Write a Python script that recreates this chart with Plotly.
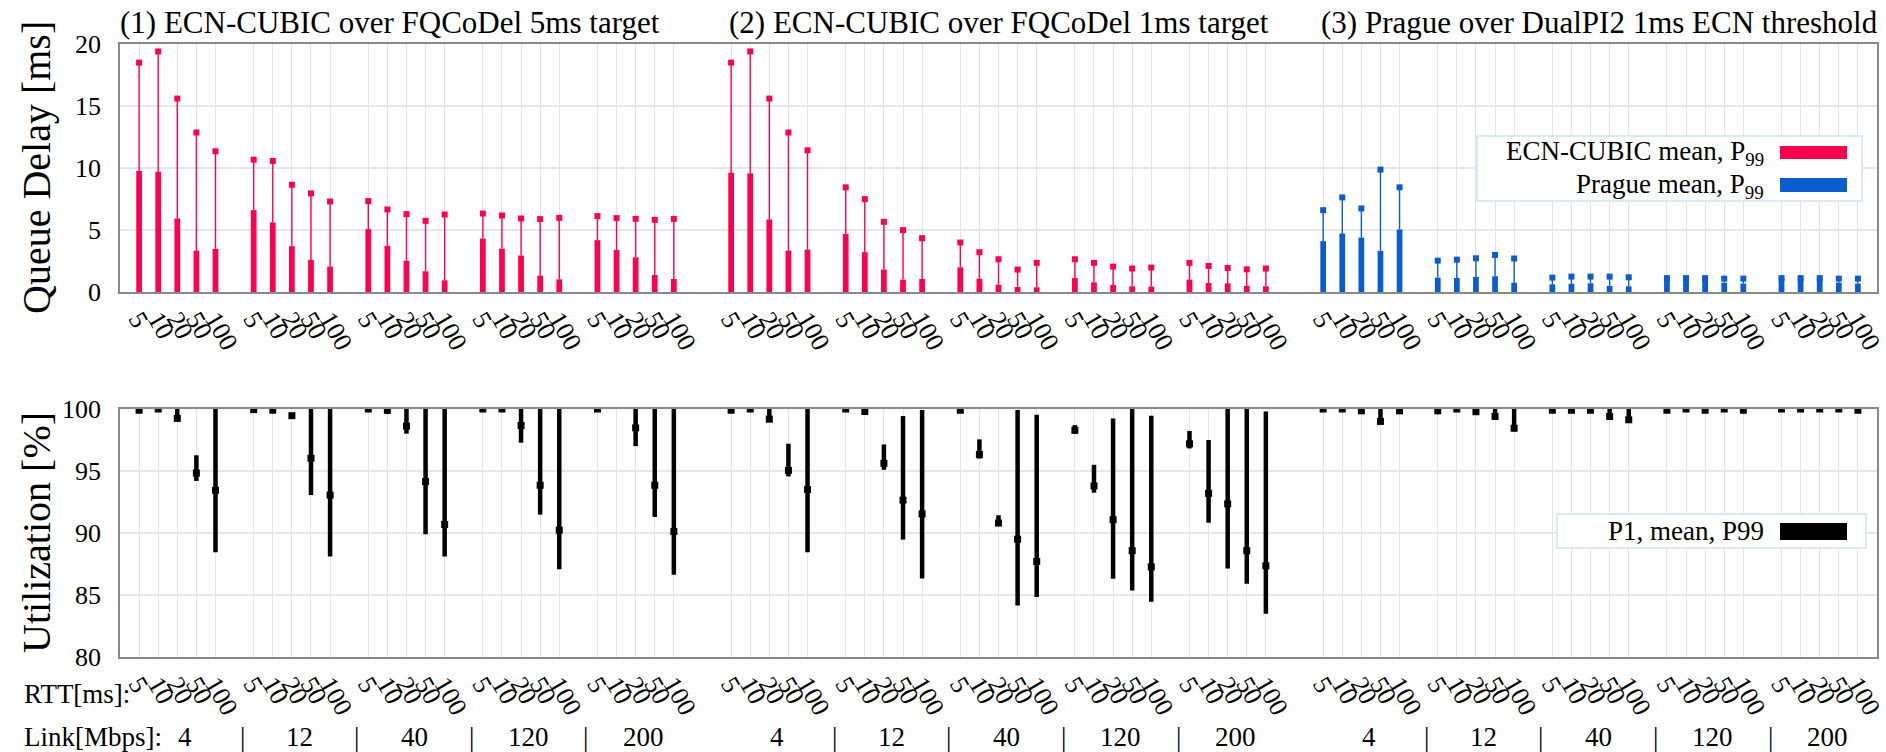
import plotly.graph_objects as go

# ---------------- data ----------------
rtts = ["5", "10", "20", "50", "100"]
links = ["4", "12", "40", "120", "200"]
panel_titles = [
    "(1) ECN-CUBIC over FQCoDel 5ms target",
    "(2) ECN-CUBIC over FQCoDel 1ms target",
    "(3) Prague over DualPI2 1ms ECN threshold",
]

# Queue delay [ms]: mean and P99 (order: link 4,12,40,120,200 ; rtt 5,10,20,50,100)
cubic5_mean = [9.76, 9.70, 5.93, 3.34, 3.48, 6.60, 5.60, 3.69, 2.59, 2.05,
               5.07, 3.72, 2.53, 1.67, 0.94, 4.31, 3.50, 2.94, 1.32, 1.02,
               4.18, 3.40, 2.80, 1.37, 1.05]
cubic5_p99 = [18.5, 19.4, 15.6, 12.86, 11.35, 10.67, 10.57, 8.65, 7.95, 7.30,
              7.33, 6.66, 6.28, 5.74, 6.25, 6.33, 6.17, 5.93, 5.88, 5.98,
              6.12, 5.96, 5.90, 5.82, 5.90]
cubic1_mean = [9.62, 9.57, 5.85, 3.34, 3.42, 4.69, 3.21, 1.81, 1.00, 1.05,
               1.99, 1.08, 0.59, 0.40, 0.38, 1.13, 0.78, 0.57, 0.46, 0.43,
               1.00, 0.73, 0.70, 0.49, 0.46]
cubic1_p99 = [18.5, 19.4, 15.6, 12.86, 11.43, 8.44, 7.49, 5.66, 4.99, 4.34,
              3.99, 3.21, 2.64, 1.81, 2.35, 2.64, 2.35, 2.05, 1.89, 1.97,
              2.35, 2.10, 1.94, 1.83, 1.89]
prague_mean = [4.10, 4.72, 4.39, 3.32, 5.04, 1.16, 1.13, 1.21, 1.27, 0.75,
               0.62, 0.67, 0.70, 0.49, 0.46, 1.10, 1.10, 1.10, 0.75, 0.68,
               1.10, 1.10, 1.10, 0.75, 0.68]
prague_p99 = [6.60, 7.63, 6.74, 9.87, 8.44, 2.53, 2.61, 2.72, 2.99, 2.70,
              1.16, 1.24, 1.24, 1.24, 1.19, 1.12, 1.12, 1.12, 1.08, 1.08,
              1.12, 1.12, 1.12, 1.08, 1.08]

# Utilization [%]: P1, mean, P99
util1_p1 = [99.7, 99.9, 99.1, 94.2, 88.44, 99.7, 99.7, 99.3, 93.06, 88.1,
            99.9, 99.6, 98.01, 89.9, 88.1, 99.9, 99.9, 97.28, 91.48, 87.07,
            99.9, None, 97.0, 91.3, 86.64]
util1_mean = [99.9, 100, 99.24, 94.83, 93.44, 99.95, 99.9, 99.46, 96.03, 93.06,
              100, 99.9, 98.61, 94.15, 90.69, 100, 100, 98.67, 93.85, 90.23,
              100, None, 98.48, 93.85, 90.12]
util1_p99 = [100, 100, 100, 96.27, 100, 100, 100, 99.65, 100, 100,
             100, 100, 100, 100, 100, 100, 100, 100, 100, 100,
             100, None, 100, 100, 100]
util2_p1 = [99.7, 99.9, 99.1, 94.56, 88.44, 99.9, 99.7, 95.1, 89.47, 86.34,
            99.8, 96.0, 90.67, 84.16, 84.84, 98.0, 93.25, 86.31, 85.36, 84.46,
            96.82, 90.83, 87.13, 85.9, 83.48]
util2_mean = [99.9, 100, 99.18, 95.05, 93.5, 100, 99.8, 95.62, 92.65, 91.54,
              99.9, 96.33, 90.8, 89.5, 87.7, 98.29, 93.8, 91.07, 88.57, 87.27,
              97.2, 93.2, 92.35, 88.57, 87.35]
util2_p99 = [100, 100, 100, 97.2, 100, 100, 100, 97.14, 99.43, 99.92,
             100, 97.55, 91.43, 99.92, 99.54, 98.7, 95.5, 99.24, 100, 99.46,
             98.23, 97.5, 100, 100, 99.8]
util3_p1 = [99.9, 99.9, 99.75, 98.8, 99.75, 99.8, 99.9, 99.7, 99.2, 98.2,
            99.8, 99.8, 99.8, 99.3, 98.9, 99.8, 99.9, 99.8, 99.9, 99.75,
            99.9, 99.9, 99.9, 99.9, 99.8]
util3_mean = [100, 100, 99.85, 99.0, 99.85, 99.85, 100, 99.78, 99.4, 98.45,
              99.9, 99.9, 99.9, 99.4, 99.13, 99.9, 100, 99.9, 100, 99.9,
              100, 100, 100, 100, 99.9]
util3_p99 = [100, 100, 100, 100, 99.95, 99.95, 100, 99.9, 100, 100,
             100, 100, 100, 100, 100, 100, 100, 100, 100, 100,
             100, 100, 100, 100, 100]

RED = "#ff0050"
BLUE = "#0a5ccf"
FONT = "Liberation Serif, Times New Roman, DejaVu Serif, serif"

# ---------------- slot positions (layout) ----------------
GROUP_STEP = 6      # 5 bars + 1 empty slot
PANEL_STEP = 31     # 5 groups + wider gap


def positions(panel):
    return [panel * PANEL_STEP + g * GROUP_STEP + r for g in range(5) for r in range(5)]


all_pos = positions(0) + positions(1) + positions(2)
all_text = rtts * 15

fig = go.Figure()

delay_sets = [(cubic5_mean, cubic5_p99, RED), (cubic1_mean, cubic1_p99, RED),
              (prague_mean, prague_p99, BLUE)]
for p, (mean, p99, col) in enumerate(delay_sets):
    xs = positions(p)
    fig.add_trace(go.Bar(x=xs, y=mean, width=0.3, marker=dict(color=col, line_width=0),
                         xaxis="x", yaxis="y", showlegend=False, hoverinfo="skip"))
    fig.add_trace(go.Scatter(
        x=xs, y=p99, mode="markers", xaxis="x", yaxis="y", showlegend=False,
        marker=dict(symbol="square", size=6, color=col),
        error_y=dict(type="data", symmetric=False, array=[0] * len(p99),
                     arrayminus=[a - b for a, b in zip(p99, mean)],
                     color=col, thickness=1.4, width=0),
        hoverinfo="skip"))

util_sets = [(util1_p1, util1_mean, util1_p99), (util2_p1, util2_mean, util2_p99),
             (util3_p1, util3_mean, util3_p99)]
for p, (lo, mid, hi) in enumerate(util_sets):
    xs = positions(p)
    fig.add_trace(go.Scatter(
        x=xs, y=mid, mode="markers", xaxis="x2", yaxis="y2", showlegend=False,
        marker=dict(symbol="square", size=7, color="black"),
        error_y=dict(type="data", symmetric=False,
                     array=[None if m is None else h - m for h, m in zip(hi, mid)],
                     arrayminus=[None if m is None else m - l for l, m in zip(lo, mid)],
                     color="black", thickness=4.5, width=0),
        hoverinfo="skip"))

W, H = 1886, 752
ML, MR, MT, MB = 120, 9, 44, 95
PW = W - ML - MR
PH = H - MT - MB


def px(xp):
    return (xp - ML) / PW


def py(yp):
    return (H - MB - yp) / PH


top_dom = [py(292), 1.0]
bot_dom = [0.0, py(409)]

xcommon = dict(range=[-1, 91], tickmode="array", tickvals=all_pos, ticktext=all_text,
               tickangle=60, tickfont=dict(family=FONT, size=26, color="black"),
               showgrid=True, gridcolor="#e4e4e4", gridwidth=1, zeroline=False,
               showline=True, linecolor="#8a8a8a", linewidth=1.5, mirror=True,
               ticks="", ticklabelstandoff=0, ticklabeloverflow="allow")
ycommon = dict(showgrid=True, gridcolor="#e6e6e6", gridwidth=2, zeroline=False,
               showline=True, linecolor="#8a8a8a", linewidth=1.5, mirror=True,
               tickfont=dict(family=FONT, size=26, color="black"), ticks="",
               ticklabelstandoff=12)

fig.update_layout(
    width=W, height=H,
    font=dict(family=FONT, color="black"),
    margin=dict(l=ML, r=MR, t=MT, b=MB, autoexpand=False),
    paper_bgcolor="white", plot_bgcolor="white",
    barmode="overlay", showlegend=False,
    xaxis=dict(anchor="y", domain=[0, 1], **xcommon),
    xaxis2=dict(anchor="y2", domain=[0, 1], matches="x", **xcommon),
    yaxis=dict(domain=top_dom, range=[0, 20], tickvals=[0, 5, 10, 15, 20], **ycommon),
    yaxis2=dict(domain=bot_dom, range=[80, 100], tickvals=[80, 85, 90, 95, 100], **ycommon),
)

ann = []
# panel titles
title_x = [118, 727, 1319]
for t, xp in zip(panel_titles, title_x):
    ann.append(dict(text=t, x=px(xp), y=py(22), xref="paper", yref="paper",
                    xanchor="left", yanchor="middle", showarrow=False,
                    font=dict(family=FONT, size=31, color="black")))
# y-axis titles
ann.append(dict(text="Queue Delay [ms]", textangle=-90, x=px(36), y=(top_dom[0] + top_dom[1]) / 2,
                xref="paper", yref="paper", xanchor="center", yanchor="middle", showarrow=False,
                font=dict(family=FONT, size=40, color="black")))
ann.append(dict(text="Utilization [%]", textangle=-90, x=px(36), y=(bot_dom[0] + bot_dom[1]) / 2,
                xref="paper", yref="paper", xanchor="center", yanchor="middle", showarrow=False,
                font=dict(family=FONT, size=40, color="black")))
# bottom rows
ann.append(dict(text="RTT[ms]:", x=px(22), y=py(694), xref="paper", yref="paper",
                xanchor="left", yanchor="middle", showarrow=False,
                font=dict(family=FONT, size=27, color="black")))
ann.append(dict(text="Link[Mbps]:", x=px(22), y=py(737), xref="paper", yref="paper",
                xanchor="left", yanchor="middle", showarrow=False,
                font=dict(family=FONT, size=27, color="black")))
for p in range(3):
    for g, lab in enumerate(links):
        c = p * PANEL_STEP + g * GROUP_STEP + 2
        ann.append(dict(text=lab, x=c + 0.4, y=py(737), xref="x2", yref="paper",
                        xanchor="center", yanchor="middle", showarrow=False,
                        font=dict(family=FONT, size=27, color="black")))
        if g < 4:
            ann.append(dict(text="|", x=c + 3.4, y=py(737), xref="x2", yref="paper",
                            xanchor="center", yanchor="middle", showarrow=False,
                            font=dict(family=FONT, size=27, color="black")))

# legends (drawn manually)
shapes = []
legend_border = "#cfe2f0"
shapes.append(dict(type="rect", xref="paper", yref="paper", x0=px(1477), x1=px(1862),
                   y0=py(201), y1=py(136), line=dict(color=legend_border, width=1.5),
                   fillcolor="white", layer="above"))
shapes.append(dict(type="rect", xref="paper", yref="paper", x0=px(1780), x1=px(1847),
                   y0=py(159), y1=py(146), line=dict(width=0), fillcolor=RED, layer="above"))
shapes.append(dict(type="rect", xref="paper", yref="paper", x0=px(1780), x1=px(1847),
                   y0=py(192), y1=py(178), line=dict(width=0), fillcolor=BLUE, layer="above"))
ann.append(dict(text="ECN-CUBIC mean, P<sub>99</sub>", x=px(1766), y=py(153), xref="paper", yref="paper",
                xanchor="right", yanchor="middle", showarrow=False,
                font=dict(family=FONT, size=27, color="black")))
ann.append(dict(text="Prague mean, P<sub>99</sub>", x=px(1766), y=py(186), xref="paper", yref="paper",
                xanchor="right", yanchor="middle", showarrow=False,
                font=dict(family=FONT, size=27, color="black")))

shapes.append(dict(type="rect", xref="paper", yref="paper", x0=px(1557), x1=px(1866),
                   y0=py(548), y1=py(514), line=dict(color=legend_border, width=1.5),
                   fillcolor="white", layer="above"))
shapes.append(dict(type="rect", xref="paper", yref="paper", x0=px(1780), x1=px(1847),
                   y0=py(540), y1=py(523), line=dict(width=0), fillcolor="black", layer="above"))
ann.append(dict(text="P1, mean, P99", x=px(1766), y=py(531), xref="paper", yref="paper",
                xanchor="right", yanchor="middle", showarrow=False,
                font=dict(family=FONT, size=27, color="black")))

fig.update_layout(annotations=ann, shapes=shapes)

fig.write_html("out.html")
